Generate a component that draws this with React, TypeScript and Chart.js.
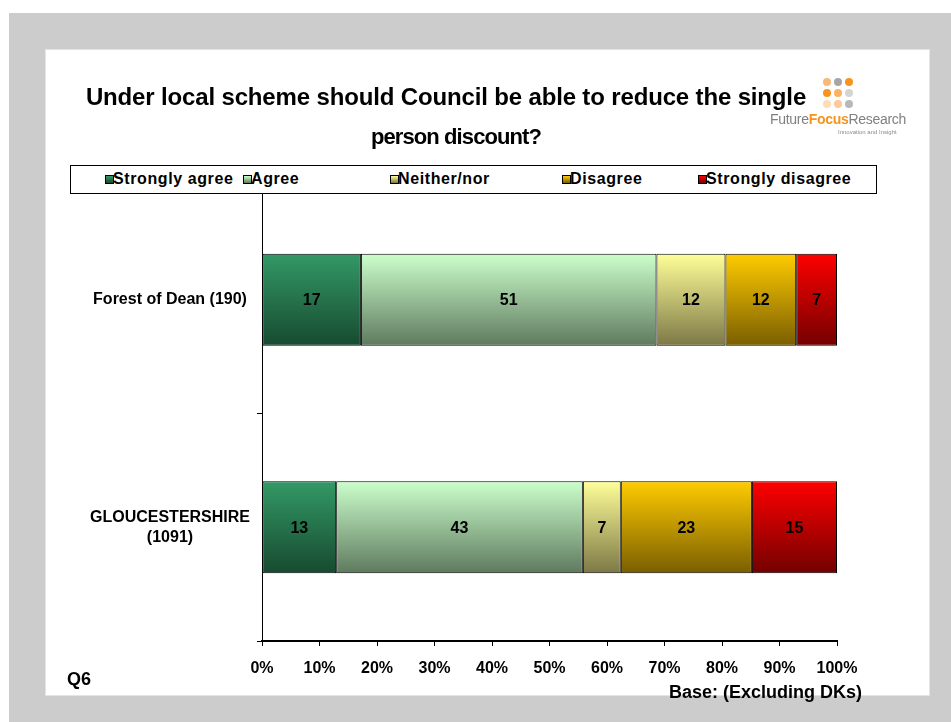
import React, { useEffect, useRef } from 'react';
import { Chart, registerables } from 'chart.js';

Chart.register(...registerables);

const categories: (string | string[])[] = ['Forest of Dean (190)', ['GLOUCESTERSHIRE', '(1091)']];
const seriesNames = ['Strongly agree', 'Agree', 'Neither/nor', 'Disagree', 'Strongly disagree'];
const stronglyAgree = [17.2, 12.9];
const agree = [51.4, 42.9];
const neither = [12.0, 6.6];
const disagree = [12.3, 22.8];
const stronglyDisagree = [7.1, 14.8];
const xTickValues = [0, 10, 20, 30, 40, 50, 60, 70, 80, 90, 100];

const topColors = ['#339966', '#ccffcc', '#ffff99', '#ffcc00', '#ff0000'];
const bottomColors = ['#174a30', '#5e7a5e', '#7d7846', '#7a5e00', '#730000'];

const FONT = '"Liberation Sans", Arial, Helvetica, sans-serif';
const BAR_PCT = 0.405;

const segLabels = {
  id: 'segLabels',
  afterDatasetsDraw(chart: any) {
    const ctx = chart.ctx;
    ctx.save();
    ctx.font = `bold 16px ${FONT}`;
    ctx.fillStyle = '#000';
    ctx.textAlign = 'center';
    ctx.textBaseline = 'middle';
    chart.data.datasets.forEach((ds: any, di: number) => {
      const meta = chart.getDatasetMeta(di);
      meta.data.forEach((bar: any, i: number) => {
        const v = ds.data[i];
        const p = bar.getProps(['x', 'y', 'base'], true);
        ctx.fillText(String(Math.round(v)), (p.x + p.base) / 2, p.y + 1);
      });
    });
    ctx.restore();
  },
};

function gradientFor(k: number) {
  return (c: any) => {
    const chart = c.chart;
    if (!chart.chartArea || c.type !== 'data' || !chart.scales.y) return topColors[k];
    const ys = chart.scales.y;
    const yc = ys.getPixelForValue(c.dataIndex);
    const half = (ys.height / chart.data.labels.length) * BAR_PCT / 2;
    const g = chart.ctx.createLinearGradient(0, yc - half, 0, yc + half);
    g.addColorStop(0, topColors[k]);
    g.addColorStop(1, bottomColors[k]);
    return g;
  };
}

const legendPos = [
  { mx: 106, tx: 113 },
  { mx: 244, tx: 251 },
  { mx: 391, tx: 398 },
  { mx: 563, tx: 570 },
  { mx: 699, tx: 706 },
];

const abs = (s: React.CSSProperties): React.CSSProperties => ({ position: 'absolute', ...s });

export default function App() {
  const ref = useRef<HTMLCanvasElement | null>(null);

  useEffect(() => {
    if (!ref.current) return;
    const series = [stronglyAgree, agree, neither, disagree, stronglyDisagree];
    const chart = new Chart(ref.current, {
      type: 'bar',
      data: {
        labels: categories,
        datasets: series.map((d, k) => ({
          label: seriesNames[k],
          data: d,
          backgroundColor: gradientFor(k),
          borderColor: '#000',
          borderWidth: 1,
          borderSkipped: false,
          barPercentage: BAR_PCT,
          categoryPercentage: 1,
        })),
      },
      options: {
        indexAxis: 'y',
        animation: false,
        responsive: false,
        maintainAspectRatio: false,
        layout: { padding: { left: 0, top: 186, right: 114, bottom: 0 } },
        plugins: {
          legend: { display: false },
          title: { display: false },
          tooltip: { enabled: false },
        },
        scales: {
          x: {
            stacked: true,
            min: 0,
            max: 100,
            afterFit: (s: any) => { s.height = 81; },
            afterBuildTicks: (s: any) => { s.ticks = xTickValues.map((v) => ({ value: v })); },
            ticks: {
              callback: (v: any) => v + '%',
              font: { family: FONT, size: 16, weight: 'bold' },
              color: '#000',
              padding: 13,
              maxRotation: 0,
              autoSkip: false,
            },
            grid: { drawOnChartArea: false, tickLength: 5, color: '#000', lineWidth: 1 },
            border: { color: '#000', width: 2 },
          },
          y: {
            stacked: true,
            afterFit: (s: any) => { s.width = 262; },
            ticks: {
              crossAlign: 'center',
              padding: 7,
              font: { family: FONT, size: 16, weight: 'bold', lineHeight: 1.25 },
              color: '#000',
            },
            grid: { drawOnChartArea: false, tickLength: 5, color: '#000', offset: true },
            border: { color: '#000', width: 1 },
          },
        },
      },
      plugins: [segLabels],
    } as any);
    return () => chart.destroy();
  }, []);

  const dots = [
    ['#f9b877', '#a6a6a6', '#f7941d'],
    ['#f7941d', '#fbb266', '#d4d4d4'],
    ['#fddcb8', '#fcc997', '#b8b8b8'],
  ];

  return (
    <div style={abs({ left: 0, top: 0, width: 951, height: 722, overflow: 'hidden', fontFamily: FONT, background: '#fff' })}>
      <div style={abs({ left: 9, top: 13, width: 942, height: 709, background: '#cccccc' })} />
      <div style={abs({ left: 45, top: 49, width: 883, height: 645, background: '#ffffff', border: '1px solid #e4e4e4' })} />
      <canvas ref={ref} width={951} height={722} style={abs({ left: 0, top: 0, width: 951, height: 722 })} />

      <div style={abs({ left: 46, width: 800, top: 83, textAlign: 'center', fontWeight: 'bold', fontSize: 24, lineHeight: '28px', color: '#000', whiteSpace: 'nowrap', letterSpacing: -0.15 })}>
        Under local scheme should Council be able to reduce the single
      </div>
      <div style={abs({ left: 56, width: 800, top: 123, textAlign: 'center', fontWeight: 'bold', fontSize: 22, lineHeight: '28px', color: '#000', whiteSpace: 'nowrap', letterSpacing: -0.9 })}>
        person discount?
      </div>

      {dots.map((row, r) =>
        row.map((c, i) => (
          <div key={`d${r}${i}`} style={abs({ left: 823 + i * 11, top: 78 + r * 11, width: 8, height: 8, borderRadius: 4, background: c })} />
        ))
      )}
      <div style={abs({ left: 770, top: 110, fontSize: 14, lineHeight: '18px', color: '#808080', whiteSpace: 'nowrap', letterSpacing: -0.3 })}>
        Future<span style={{ color: '#f7941d', fontWeight: 'bold' }}>Focus</span>Research
      </div>
      <div style={abs({ left: 838, top: 128, fontSize: 6, lineHeight: '8px', color: '#8a8a8a', whiteSpace: 'nowrap' })}>
        Innovation and Insight
      </div>

      <div style={abs({ left: 70, top: 165, width: 805, height: 27, border: '1px solid #000', background: '#fff' })} />
      {seriesNames.map((n, k) => (
        <React.Fragment key={n}>
          <div style={abs({ left: legendPos[k].mx - 1, top: 175, width: 7, height: 7, border: '1px solid #000', background: `linear-gradient(${topColors[k]}, ${bottomColors[k]})` })} />
          <div style={abs({ left: legendPos[k].tx, top: 170, fontSize: 16, lineHeight: '18px', fontWeight: 'bold', color: '#000', whiteSpace: 'nowrap', letterSpacing: 0.6 })}>
            {n}
          </div>
        </React.Fragment>
      ))}

      <div style={abs({ left: 67, top: 669, fontSize: 18, lineHeight: '20px', fontWeight: 'bold', color: '#000' })}>Q6</div>
      <div style={abs({ right: 951 - 862, top: 682, fontSize: 18, lineHeight: '20px', fontWeight: 'bold', color: '#000', whiteSpace: 'nowrap' })}>
        Base: (Excluding DKs)
      </div>
    </div>
  );
}
